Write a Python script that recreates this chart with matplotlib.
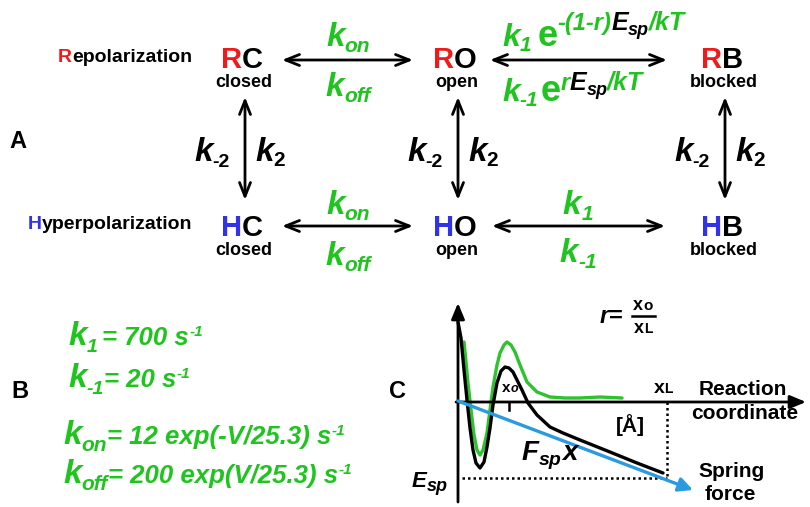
import matplotlib
matplotlib.use('Agg')
import matplotlib.pyplot as plt

GREEN = '#1fc41f'
RED = '#f01a1a'
BLUE = '#3232e6'
SKY = '#2a9be0'
FONT = 'Liberation Sans'

# panel C: energy profiles (pixel coordinates)
black_x = [458, 461, 464, 467, 470, 473, 476, 480, 484, 487, 490, 493, 497, 501, 505, 509, 513, 517, 522, 528, 537, 550, 563, 580, 610, 637, 663]
black_y = [322, 338, 370, 400, 428, 450, 463, 468, 462, 447, 428, 405, 383, 371, 367, 368, 372, 380, 390, 403, 415, 427, 433, 440, 452, 463, 473]
green_x = [464, 466, 468, 471, 474, 477, 480, 483, 487, 490, 493, 497, 500, 504, 507, 511, 515, 520, 527, 537, 550, 565, 580, 600, 622]
green_y = [342, 362, 383, 410, 435, 450, 455, 450, 433, 410, 387, 365, 353, 345, 342, 345, 352, 365, 382, 392, 397, 398, 398, 397, 398]
spring_x = [458, 693]
spring_y = [401, 490]

# panel A: state grid
col_x = [242, 455, 722]
row_y = [68, 236]
row_colors = [RED, BLUE]
row_letters = ['R', 'H']
state_letters = ['C', 'O', 'B']
state_names = ['closed', 'open', 'blocked']

fig = plt.figure(figsize=(8.1, 5.07), dpi=100)
ax = fig.add_axes([0, 0, 1, 1])
ax.set_xlim(0, 810)
ax.set_ylim(507, 0)
ax.axis('off')
rend = fig.canvas.get_renderer()


def seq(x, y, parts, ha='left'):
    # parts: (text, size, color, dy, italic) or a number = extra gap in px
    texts = []
    cur = x
    for p in parts:
        if isinstance(p, (int, float)):
            cur += p
            continue
        s, size, color, dy, it = p
        t = ax.text(cur, y + dy, s, fontsize=size, color=color, fontweight='bold',
                    fontstyle='italic' if it else 'normal', family=FONT,
                    va='baseline', ha='left')
        cur += t.get_window_extent(renderer=rend).width
        texts.append(t)
    if ha == 'center':
        shift = (cur - x) / 2
        for t in texts:
            t.set_x(t.get_position()[0] - shift)
    return cur


def arrow(x1, y1, x2, y2):
    ax.annotate('', xy=(x2, y2), xytext=(x1, y1),
                arrowprops=dict(arrowstyle='<->,head_length=0.55,head_width=0.22',
                                lw=2.0, color='black', shrinkA=0, shrinkB=0,
                                mutation_scale=18))


# ---------- panel A ----------
ax.text(18, 142, 'A', fontsize=17, fontweight='bold', family=FONT, ha='center', va='center')
for i, ry in enumerate(row_y):
    for j, cx in enumerate(col_x):
        seq(cx, ry, [(row_letters[i], 21, row_colors[i], 0, False),
                     (state_letters[j], 21, 'black', 0, False)], ha='center')
        ax.text(cx + 2, ry + 19, state_names[j], fontsize=13, fontweight='bold',
                family=FONT, ha='center', va='baseline')

seq(58, 62, [('R', 14, RED, 0, False), ('epolarization', 14, 'black', 0, False)])
seq(28, 229, [('H', 14, BLUE, 0, False), ('yperpolarization', 14, 'black', 0, False)])

# horizontal arrows
arrow(282, 60, 413, 60)
arrow(490, 60, 667, 60)
arrow(282, 226, 413, 226)
arrow(492, 226, 665, 226)

# vertical arrows + k-2 / k2
for cx in col_x:
    arrow(cx + 3, 97, cx + 3, 200)
    seq(cx - 48, 161, [('k', 24, 'black', 0, True), ('-2', 14, 'black', 6, False)])
    seq(cx + 13, 161, [('k', 24, 'black', 0, True), ('2', 15, 'black', 5, False)])

# rate labels on horizontal arrows
seq(348, 46, [('k', 24, GREEN, 0, True), ('on', 15, GREEN, 6, True)], ha='center')
seq(348, 96, [('k', 24, GREEN, 0, True), ('off', 15, GREEN, 6, True)], ha='center')
seq(348, 214, [('k', 24, GREEN, 0, True), ('on', 15, GREEN, 6, True)], ha='center')
seq(348, 265, [('k', 24, GREEN, 0, True), ('off', 15, GREEN, 6, True)], ha='center')
seq(578, 214, [('k', 24, GREEN, 0, True), ('1', 15, GREEN, 6, True)], ha='center')
seq(578, 262, [('k', 24, GREEN, 0, True), ('-1', 15, GREEN, 6, True)], ha='center')

seq(502, 46, [('k', 23, GREEN, 0, True), ('1', 15, GREEN, 5, True), 6,
              ('e', 26, GREEN, 0, False), ('-(1-r)', 17, GREEN, -16, True),
              ('E', 18, 'black', -16, True), ('sp', 13, 'black', -11, True),
              ('/kT', 18, GREEN, -16, True)])
seq(502, 101, [('k', 23, GREEN, 0, True), ('-1', 15, GREEN, 5, True), 2,
               ('e', 26, GREEN, 0, False), ('r', 17, GREEN, -11, True),
               ('E', 18, 'black', -11, True), ('sp', 13, 'black', -6, True),
               ('/kT', 18, GREEN, -11, True)])

# ---------- panel B ----------
ax.text(20, 392, 'B', fontsize=17, fontweight='bold', family=FONT, ha='center', va='center')
seq(68, 345, [('k', 24, GREEN, 0, True), ('1', 14, GREEN, 7, True), 5,
              ('= 700 s', 18.5, GREEN, 0, True), ('-1', 11, GREEN, -9, True)])
seq(68, 387, [('k', 24, GREEN, 0, True), ('-1', 14, GREEN, 7, True),
              ('= 20 s', 18.5, GREEN, 0, True), ('-1', 11, GREEN, -9, True)])
seq(63, 444, [('k', 24, GREEN, 0, True), ('on', 15, GREEN, 7, True),
              ('= 12 exp(-V/25.3) s', 18.5, GREEN, 0, True), ('-1', 11, GREEN, -9, True)])
seq(63, 483, [('k', 24, GREEN, 0, True), ('off', 15, GREEN, 7, True),
              ('= 200 exp(V/25.3) s', 18.5, GREEN, 0, True), ('-1', 11, GREEN, -9, True)])

# ---------- panel C ----------
ax.text(397, 391, 'C', fontsize=17, fontweight='bold', family=FONT, ha='center', va='center')
# axes
ax.annotate('', xy=(458, 303), xytext=(458, 502),
            arrowprops=dict(arrowstyle='-|>,head_length=0.6,head_width=0.25', lw=2.0,
                            color='black', shrinkA=0, shrinkB=0, mutation_scale=16))
ax.annotate('', xy=(806, 402), xytext=(456, 402),
            arrowprops=dict(arrowstyle='-|>,head_length=0.6,head_width=0.25', lw=2.0,
                            color='black', shrinkA=0, shrinkB=0, mutation_scale=16))
# dotted guides
ax.plot([462, 667], [478, 478], color='black', lw=1.8, ls=(0, (1, 1.2)))
ax.plot([667, 667], [402, 478], color='black', lw=1.8, ls=(0, (1, 1.2)))
ax.plot([509, 509], [402, 410], color='black', lw=1.8)

ax.plot(green_x, green_y, color='#2ec22e', lw=2.4, solid_joinstyle='round', solid_capstyle='round')
ax.plot(black_x, black_y, color='black', lw=2.4, solid_joinstyle='round', solid_capstyle='round')
ax.annotate('', xy=(spring_x[1], spring_y[1]), xytext=(spring_x[0], spring_y[0]),
            arrowprops=dict(arrowstyle='-|>,head_length=0.6,head_width=0.3', lw=2.4,
                            color=SKY, shrinkA=0, shrinkB=0, mutation_scale=14))

seq(510, 392, [('x', 11, 'black', 0, False), ('o', 9, 'black', 0, True)], ha='center')
seq(663, 393, [('x', 14, 'black', 0, False), ('L', 10, 'black', 0, False)], ha='center')
ax.text(630, 432, '[Å]', fontsize=15, fontweight='bold', family=FONT, ha='center', va='baseline')
ax.text(743, 395, 'Reaction', fontsize=15, fontweight='bold', family=FONT, ha='center', va='baseline')
ax.text(745, 419, 'coordinate', fontsize=15, fontweight='bold', family=FONT, ha='center', va='baseline')
ax.text(732, 477, 'Spring', fontsize=15, fontweight='bold', family=FONT, ha='center', va='baseline')
ax.text(730, 500, 'force', fontsize=15, fontweight='bold', family=FONT, ha='center', va='baseline')
seq(522, 460, [('F', 20, 'black', 0, True), ('sp', 14, 'black', 5, True), ('x', 20, 'black', 0, True)])
seq(412, 487, [('E', 16, 'black', 0, True), ('sp', 13, 'black', 4, True)])

# r = xo / xL
seq(600, 323, [('r', 17, 'black', 0, True), ('=', 17, 'black', 0, False)])
seq(643, 310, [('x', 13, 'black', 0, False), ('o', 11, 'black', 0, False)], ha='center')
ax.plot([632, 655], [316, 316], color='black', lw=1.8)
seq(643, 333, [('x', 13, 'black', 0, False), ('L', 10, 'black', 0, False)], ha='center')

fig.savefig('out.png', dpi=100, facecolor='white')
